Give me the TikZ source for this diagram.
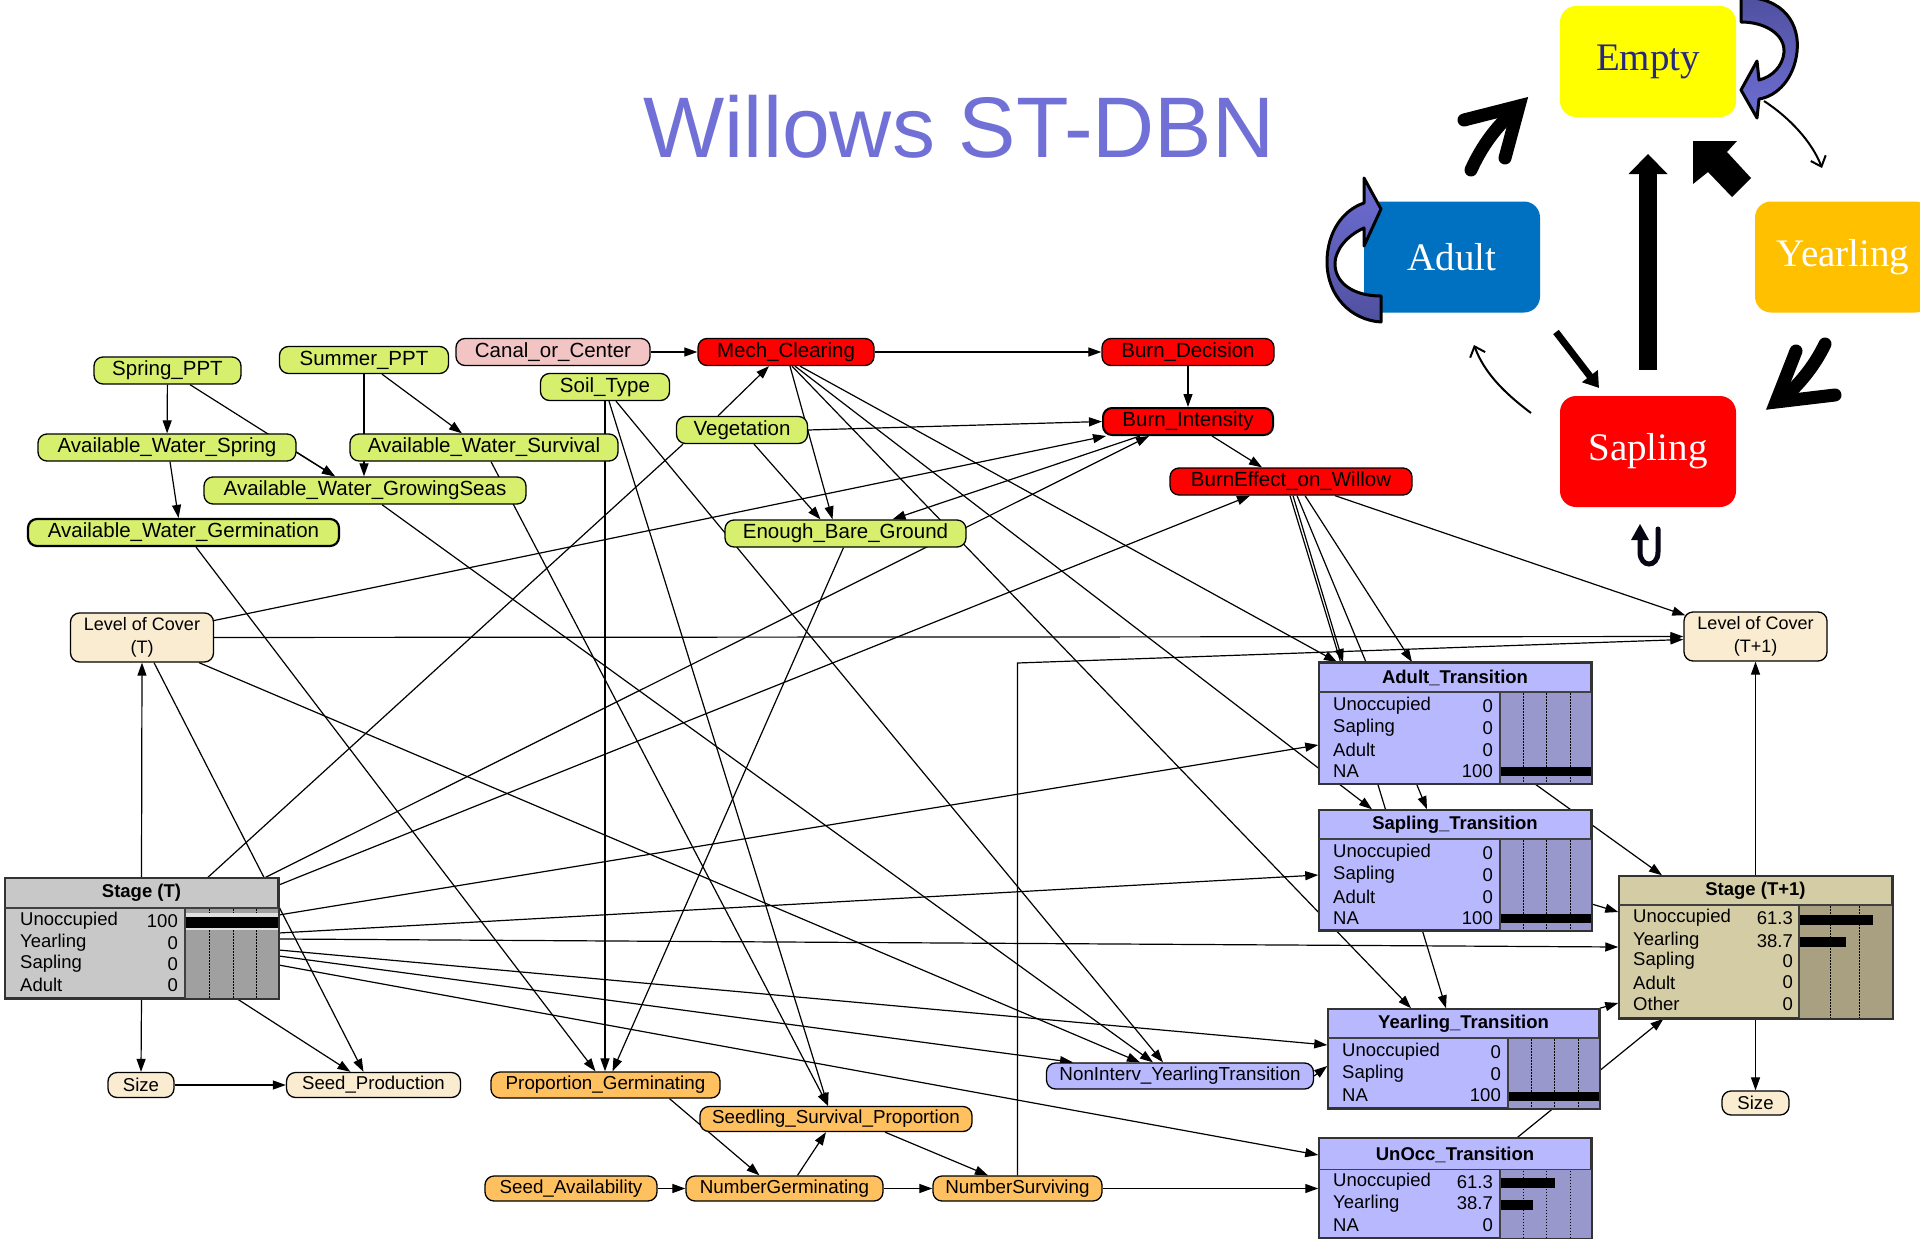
\documentclass[tikz,border=0pt]{standalone}
\usepackage{fontspec}
\newfontfamily\arialf{Liberation Sans}
\newfontfamily\timesf{Liberation Serif}
\usetikzlibrary{arrows.meta,backgrounds,calc}

\definecolor{grnc}{RGB}{214,240,110}
\definecolor{redc}{RGB}{255,0,0}
\definecolor{pinkc}{RGB}{242,196,196}
\definecolor{creamc}{RGB}{249,236,208}
\definecolor{orangec}{RGB}{255,192,96}
\definecolor{lavc}{RGB}{184,184,255}
\definecolor{lavbar}{RGB}{152,152,204}
\definecolor{grayc}{RGB}{200,200,200}
\definecolor{graybar}{RGB}{160,160,160}
\definecolor{tanc}{RGB}{212,204,164}
\definecolor{tanbar}{RGB}{168,160,128}
\definecolor{titlec}{RGB}{112,112,214}
\definecolor{emptyc}{RGB}{255,255,0}
\definecolor{adultc}{RGB}{0,112,192}
\definecolor{yearc}{RGB}{255,192,0}
\definecolor{saplc}{RGB}{255,0,0}
\definecolor{loopdark}{RGB}{80,80,160}
\definecolor{looplight}{RGB}{110,110,212}
\definecolor{navyc}{RGB}{40,40,130}

\newcommand\bnfont{\arialf\fontsize{20.5}{22}\selectfont}
\newcommand\lowfont{\arialf\fontsize{18.8}{20}\selectfont}
\newcommand\tbfont{\arialf\fontsize{18.5}{20}\selectfont}
\newcommand\tbbold{\arialf\bfseries\fontsize{18.5}{20}\selectfont}
\newcommand\stfont{\timesf\fontsize{39}{40}\selectfont}

\tikzset{
  bn/.style={draw=black, line width=1.3pt, rounded corners=9pt, minimum height=27pt, inner sep=0pt, font=\bnfont},
  grn/.style={bn, fill=grnc},
  rd/.style={bn, fill=redc},
  pnk/.style={bn, fill=pinkc},
  crm/.style={bn, fill=creamc},
  orn/.style={bn, fill=orangec, minimum height=25pt, font=\lowfont},
  lav/.style={bn, fill=lavc, font=\lowfont},
  tbl/.style={draw=black!80, line width=1.5pt, inner sep=0pt},
  tblline/.style={draw=black!80, line width=1.5pt},
  sep/.style={draw=black!75, line width=1.2pt},
  dotl/.style={draw=black, line width=1pt, dash pattern=on 1.5pt off 1.5pt},
  cell/.style={font=\tbfont, inner sep=0pt},
  ttl/.style={font=\tbbold, inner sep=0pt},
  arr/.style={line width=1.2pt, -{Triangle[length=13pt,width=9pt]}},
  lnk/.style={line width=1.2pt},
  state/.style={rounded corners=16pt, minimum width=176pt, minimum height=111pt, inner sep=0pt, font=\stfont, text=white},
  loopband/.style={draw=black, line width=3pt, line join=round},
  fatv/.style={line width=13pt, line cap=round, line join=miter, miter limit=20},
  thinc/.style={line width=2pt, -{Straight Barb[length=9pt,width=16pt]}}
}

\begin{document}
\begin{tikzpicture}[x=1pt,y=-1pt]
\useasboundingbox (0,0) rectangle (1920,1239);

% ---------- title ----------
\node[font=\arialf\fontsize{86}{86}\selectfont, text=titlec, anchor=base, inner sep=0pt] (title) at (959,157) {Willows ST-DBN};

% ---------- network nodes ----------
\node[grn, minimum width=147pt] (spring) at (167.5,370.5) {Spring\_PPT};
\node[grn, minimum width=169pt] (summer) at (364,360) {Summer\_PPT};
\node[pnk, minimum width=194pt] (canal) at (553,352) {Canal\_or\_Center};
\node[grn, minimum width=129pt] (soil) at (605,387) {Soil\_Type};
\node[rd, minimum width=176pt] (mech) at (786,352) {Mech\_Clearing};
\node[rd, minimum width=172pt] (burndec) at (1188,352) {Burn\_Decision};
\node[rd, minimum width=170pt, line width=2pt] (burnint) at (1188,421.5) {Burn\_Intensity};
\node[rd, minimum width=242pt] (bew) at (1291,481.5) {BurnEffect\_on\_Willow};
\node[grn, minimum width=131pt] (veg) at (742,430) {Vegetation};
\node[grn, minimum width=258pt] (awspring) at (167,447.5) {Available\_Water\_Spring};
\node[grn, minimum width=268pt] (awsurv) at (484,447.5) {Available\_Water\_Survival};
\node[grn, minimum width=322pt] (awgrow) at (365,490.5) {Available\_Water\_GrowingSeas};
\node[grn, minimum width=311pt, line width=2.2pt] (awgerm) at (183.5,532.5) {Available\_Water\_Germination};
\node[grn, minimum width=241pt] (ebg) at (845.5,533.5) {Enough\_Bare\_Ground};

\node[crm, minimum width=143pt, minimum height=49pt, align=center, font=\arialf\fontsize{18}{23}\selectfont] (locT) at (142,637.5) {Level of Cover\\(T)};
\node[crm, minimum width=143pt, minimum height=49pt, align=center, font=\arialf\fontsize{18}{23}\selectfont] (locT1) at (1755.5,636.5) {Level of Cover\\(T+1)};

\node[crm, minimum width=66pt, minimum height=25pt, font=\arialf\fontsize{18.6}{20}\selectfont] (sizeL) at (141,1085) {Size};
\node[crm, minimum width=174pt, minimum height=25pt, font=\arialf\fontsize{18.6}{20}\selectfont] (seedprod) at (373.5,1085) {Seed\_Production};
\node[crm, minimum width=67pt, minimum height=24pt, font=\arialf\fontsize{18.6}{20}\selectfont] (sizeR) at (1755.5,1103) {Size};

\node[orn, minimum width=229pt, minimum height=26pt] (propgerm) at (605.5,1085) {Proportion\_Germinating};
\node[orn, minimum width=272pt] (ssp) at (836,1119) {Seedling\_Survival\_Proportion};
\node[orn, minimum width=172pt] (seedavail) at (571,1188.5) {Seed\_Availability};
\node[orn, minimum width=197pt] (numgerm) at (784.5,1188.5) {NumberGerminating};
\node[orn, minimum width=169pt] (numsurv) at (1017.5,1188.5) {NumberSurviving};
\node[lav, minimum width=267pt, minimum height=26pt] (nonint) at (1180,1076) {NonInterv\_YearlingTransition};

% ---------- Stage (T) ----------
\node[tbl, fill=grayc, minimum width=273pt, minimum height=120pt] (stageT) at (141.5,938) {};
\begin{scope}[shift={(5,878)}]
  \fill[graybar] (180,30) rectangle (273,120);
  \foreach \dx in {24,48,71} \draw[dotl] (180+\dx,31) -- (180+\dx,120);
  \fill[black!12] (181,35) rectangle (273,52);
  \fill[black] (181,38.5) rectangle (273,49.5);
  \draw[sep] (0,30) -- (273,30);
  \draw[sep] (180,30) -- (180,120);
  \node[ttl] at (136.5,15) {Stage (T)};
  \node[cell, anchor=west] at (15,43) {Unoccupied};
  \node[cell, anchor=west] at (15,65) {Yearling};
  \node[cell, anchor=west] at (15,86) {Sapling};
  \node[cell, anchor=west] at (15,107) {Adult};
  \node[cell, anchor=east] at (173,43) {100};
  \node[cell, anchor=east] at (173,65) {0};
  \node[cell, anchor=east] at (173,86) {0};
  \node[cell, anchor=east] at (173,107) {0};
\end{scope}
\draw[tblline] (stageT.north west) rectangle (stageT.south east);

% ---------- Adult_Transition ----------
\node[tbl, fill=lavc, minimum width=272pt, minimum height=120.5pt] (adultT) at (1455,723) {};
\begin{scope}[shift={(1319,663)}]
  \fill[lavbar] (181,29) rectangle (272,120.5);
  \foreach \dx in {23,46,70} \draw[dotl] (181+\dx,30) -- (181+\dx,120);
  \fill[black] (181,104) rectangle (272,113);
  \draw[sep] (0,29) -- (272,29);
  \draw[sep] (181,29) -- (181,120.5);
  \node[ttl] at (136,15) {Adult\_Transition};
  \node[cell, anchor=west] at (14,43) {Unoccupied};
  \node[cell, anchor=west] at (14,65) {Sapling};
  \node[cell, anchor=west] at (14,87) {Adult};
  \node[cell, anchor=west] at (14,108) {NA};
  \node[cell, anchor=east] at (174,43) {0};
  \node[cell, anchor=east] at (174,65) {0};
  \node[cell, anchor=east] at (174,87) {0};
  \node[cell, anchor=east] at (174,108) {100};
\end{scope}
\draw[tblline] (adultT.north west) rectangle (adultT.south east);

% ---------- Sapling_Transition ----------
\node[tbl, fill=lavc, minimum width=272pt, minimum height=120pt] (saplingT) at (1455,870) {};
\begin{scope}[shift={(1319,810)}]
  \fill[lavbar] (181,29) rectangle (272,120);
  \foreach \dx in {23,46,70} \draw[dotl] (181+\dx,30) -- (181+\dx,120);
  \fill[black] (181,104) rectangle (272,113);
  \draw[sep] (0,29) -- (272,29);
  \draw[sep] (181,29) -- (181,120);
  \node[ttl] at (136,15) {Sapling\_Transition};
  \node[cell, anchor=west] at (14,43) {Unoccupied};
  \node[cell, anchor=west] at (14,65) {Sapling};
  \node[cell, anchor=west] at (14,87) {Adult};
  \node[cell, anchor=west] at (14,108) {NA};
  \node[cell, anchor=east] at (174,43) {0};
  \node[cell, anchor=east] at (174,65) {0};
  \node[cell, anchor=east] at (174,87) {0};
  \node[cell, anchor=east] at (174,108) {100};
\end{scope}
\draw[tblline] (saplingT.north west) rectangle (saplingT.south east);

% ---------- Yearling_Transition ----------
\node[tbl, fill=lavc, minimum width=271pt, minimum height=99pt] (yearT) at (1463.5,1058.5) {};
\begin{scope}[shift={(1328,1009)}]
  \fill[lavbar] (180,29) rectangle (271,99);
  \foreach \dx in {23,46,70} \draw[dotl] (180+\dx,30) -- (180+\dx,99);
  \fill[black] (180,83) rectangle (271,92);
  \draw[sep] (0,29) -- (271,29);
  \draw[sep] (180,29) -- (180,99);
  \node[ttl] at (135.5,15) {Yearling\_Transition};
  \node[cell, anchor=west] at (14,43) {Unoccupied};
  \node[cell, anchor=west] at (14,65) {Sapling};
  \node[cell, anchor=west] at (14,86) {NA};
  \node[cell, anchor=east] at (173,43) {0};
  \node[cell, anchor=east] at (173,65) {0};
  \node[cell, anchor=east] at (173,86) {100};
\end{scope}
\draw[tblline] (yearT.north west) rectangle (yearT.south east);

% ---------- UnOcc_Transition ----------
\node[tbl, fill=lavc, minimum width=272pt, minimum height=99pt] (unoccT) at (1455,1188) {};
\begin{scope}[shift={(1319,1138.5)}]
  \fill[lavbar] (181,31) rectangle (272,99);
  \foreach \dx in {23,46,70} \draw[dotl] (181+\dx,32) -- (181+\dx,99);
  \fill[black] (181,39.5) rectangle (236,49);
  \fill[black] (181,61.5) rectangle (214,71.5);
  \draw[sep] (0,31) -- (272,31);
  \draw[sep] (181,31) -- (181,99);
  \node[ttl] at (136,16) {UnOcc\_Transition};
  \node[cell, anchor=west] at (14,43.5) {Unoccupied};
  \node[cell, anchor=west] at (14,65) {Yearling};
  \node[cell, anchor=west] at (14,86.5) {NA};
  \node[cell, anchor=east] at (174,43.5) {61.3};
  \node[cell, anchor=east] at (174,65) {38.7};
  \node[cell, anchor=east] at (174,86.5) {0};
\end{scope}
\draw[tblline] (unoccT.north west) rectangle (unoccT.south east);

% ---------- Stage (T+1) ----------
\node[tbl, fill=tanc, minimum width=273pt, minimum height=142pt] (stageT1) at (1755.5,947) {};
\begin{scope}[shift={(1619,876)}]
  \fill[tanbar] (180,29) rectangle (273,142);
  \foreach \dx in {31,60} \draw[dotl] (180+\dx,30) -- (180+\dx,142);
  \fill[black] (180,39) rectangle (254,49);
  \fill[black] (180,60.5) rectangle (227,71);
  \draw[sep] (0,29) -- (273,29);
  \draw[sep] (180,29) -- (180,142);
  \node[ttl] at (136.5,15) {Stage (T+1)};
  \node[cell, anchor=west] at (14,42) {Unoccupied};
  \node[cell, anchor=west] at (14,65) {Yearling};
  \node[cell, anchor=west] at (14,85) {Sapling};
  \node[cell, anchor=west] at (14,106.5) {Adult};
  \node[cell, anchor=west] at (14,128) {Other};
  \node[cell, anchor=east] at (174,42) {61.3};
  \node[cell, anchor=east] at (174,65) {38.7};
  \node[cell, anchor=east] at (174,85) {0};
  \node[cell, anchor=east] at (174,106.5) {0};
  \node[cell, anchor=east] at (174,128) {0};
\end{scope}
\draw[tblline] (stageT1.north west) rectangle (stageT1.south east);

\coordinate (nsbend) at (1017.5,663);

% ---------- links (behind the nodes) ----------
\begin{scope}[on background layer]
\fill[white] (0,0) rectangle (1920,1239);
% management and fire
\draw[arr] (canal) -- (mech);
\draw[arr] (mech) -- (burndec);
\draw[arr] (burndec) -- (burnint);
\draw[arr] ([xshift=24pt]burnint.south) -- ([xshift=-29pt]bew.north);
\draw[arr] ([xshift=-24pt]veg.north) -- ([xshift=-17pt]mech.south);
\draw[arr] (veg.east) -- (burnint.west);
\draw[arr] ([xshift=12pt]veg.south) -- ([xshift=-25pt]ebg.north);
\draw[arr] ([xshift=4pt]mech.south) -- ([xshift=-13pt]ebg.north);
\draw[arr] ([xshift=-48pt]burnint.south) -- ([xshift=47pt]ebg.north);
\draw[arr] ([yshift=17pt]locT.east) -- ([xshift=4pt]burnint.south west);
\draw[arr] ([xshift=-13pt]stageT.north east) -- ([xshift=-39pt]burnint.south);
\draw[lnk] ([xshift=66.5pt]stageT.north) -- ([xshift=-59pt]veg.south);
\draw[arr] ([yshift=53pt]stageT.east) -- ([xshift=-41pt]bew.south);
% stage (T) to the transitions
\draw[arr] ([yshift=23pt]stageT.east) -- ([yshift=-22pt]adultT.west);
\draw[arr] ([yshift=5pt]stageT.east) -- ([yshift=-5pt]saplingT.west);
\draw[arr] ([yshift=-1pt]stageT.east) -- (stageT1.west);
\draw[arr] ([yshift=-12pt]stageT.east) -- ([yshift=13.5pt]yearT.west);
\draw[arr] ([yshift=-18pt]stageT.east) -- ([xshift=-107pt]nonint.north);
\draw[arr] ([yshift=-27pt]stageT.east) -- ([yshift=33pt]unoccT.west);
\draw[arr] (stageT.south) -- (sizeL.north);
\draw[arr] (stageT.north) -- (locT.south);
\draw[arr] ([xshift=95.5pt]stageT.south) -- ([xshift=-23pt]seedprod.north);
\draw[arr] ([xshift=12pt]locT.south) -- ([xshift=-10pt]seedprod.north);
\draw[arr] (sizeL) -- (seedprod);
\draw[arr] (locT) -- (locT1);
\draw[arr] ([xshift=57pt]locT.south) -- ([xshift=-40pt]nonint.north);
% water
\draw[arr] (spring) -- (awspring);
\draw[arr] ([xshift=22.5pt]spring.south) -- ([xshift=-30pt]awgrow.north);
\draw[arr] ([xshift=18pt]summer.south) -- ([xshift=-22pt]awsurv.north);
\draw[arr] (summer.south) -- (summer.south |- awgrow.north);
\draw[arr] ([yshift=-5pt]awspring.east) -- ([xshift=-30pt]awgrow.north);
\draw[arr] ([xshift=3pt]awspring.south) -- ([xshift=-5pt]awgerm.north);
\draw[arr] ([xshift=12.5pt]awgerm.south) -- ([xshift=-10pt]propgerm.north);
\draw[arr] (soil.south) -- (soil.south |- propgerm.north);
\draw[arr] ([xshift=-2pt]ebg.south) -- ([xshift=7pt]propgerm.north);
\draw[arr] ([xshift=4pt]soil.south) -- ([xshift=-8pt]ssp.north);
\draw[arr] ([xshift=7pt]awsurv.south) -- ([xshift=-8pt]ssp.north);
\draw[arr] ([xshift=11pt]soil.south) -- ([xshift=-17pt]nonint.north);
\draw[arr] ([xshift=17pt]awgrow.south) -- ([xshift=-27pt]nonint.north);
% clearing and burn effect to the transitions
\draw[arr] ([xshift=14pt]mech.south) -- ([xshift=-118pt]adultT.north);
\draw[arr] ([xshift=9pt]mech.south) -- ([xshift=-83pt]saplingT.north);
\draw[arr] ([xshift=6pt]mech.south) -- ([xshift=-52.5pt]yearT.north);
\draw[arr] ([xshift=2pt]bew.south) -- ([xshift=-112pt]adultT.north);
\draw[arr] ([xshift=14pt]bew.south) -- ([xshift=-43pt]adultT.north);
\draw[arr] ([xshift=6pt]bew.south) -- ([xshift=-28pt]saplingT.north);
\draw[arr] ([xshift=-1pt]bew.south) -- ([xshift=-17.5pt]yearT.north);
\draw[arr] ([xshift=44pt]bew.south) -- ([xshift=2pt,yshift=-4pt]locT1.north west);
\draw[arr] (numsurv.north) -- (nsbend) -- ([yshift=-3pt]locT1.west);
% transitions to stage (T+1)
\draw[arr] ([xshift=80pt]adultT.south) -- ([xshift=-93.5pt]stageT1.north);
\draw[arr] ([yshift=-34pt]saplingT.east) -- ([yshift=35pt]stageT1.west);
\draw[arr] (yearT.north east) -- ([yshift=-56pt]stageT1.west);
\draw[arr] ([xshift=62pt]unoccT.north) -- ([xshift=-92pt]stageT1.south);
\draw[arr] (stageT1) -- (locT1);
\draw[arr] (stageT1) -- (sizeR);
\draw[arr] (nonint.east) -- ([yshift=-7.5pt]yearT.west);
% seeds
\draw[arr] (numsurv.east) -- (numsurv.east -| unoccT.west);
\draw[arr] (seedavail) -- (numgerm);
\draw[arr] (numgerm) -- (numsurv);
\draw[arr] ([xshift=64pt]propgerm.south) -- ([xshift=-25pt]numgerm.north);
\draw[arr] ([xshift=13pt]numgerm.north) -- ([xshift=-10pt]ssp.south);
\draw[arr] ([xshift=49pt]ssp.south) -- ([xshift=-29.5pt]numsurv.north);
\end{scope}

% ---------- state cycle ----------
\node[state, fill=emptyc, text=navyc] (empty) at (1648,61.5) {Empty};
\node[state, fill=adultc] (adult) at (1452,257) {Adult};
\node[state, fill=yearc] (yearling) at (1843,257) {Yearling};
\node[state, fill=saplc] (sapling) at (1648,451.5) {Sapling};

% adult to empty
\draw[fatv] (1471,170) .. controls (1480,150) and (1493,130) .. (1512,113);
\draw[fatv] (1464,120) -- (1519,106) -- (1505,158);
% yearling to sapling
\draw[fatv] (1825,344) .. controls (1815,365) and (1801,382) .. (1786,396);
\draw[fatv] (1796,351) -- (1776,402) -- (1835,395);
% yearling to empty
\fill (1693,141) -- (1737,141) -- (1727,152) -- (1751,178) -- (1732,197) -- (1708,172) -- (1693,184) -- cycle;
% sapling to empty
\fill (1639,370) rectangle (1657,172);
\fill (1648,154) -- (1628.5,174) -- (1667.5,174) -- cycle;
% adult to sapling
\draw[line width=7pt, -{Triangle[length=15pt,width=19pt]}] (1556,332) -- (1599,388);
% sapling to adult, empty to yearling
\draw[thinc] (1531,413) .. controls (1503,392) and (1484,372) .. (1474,345);
\draw[thinc] (1764,101) .. controls (1790,118) and (1812,142) .. (1822,168);

% self loops
\draw[loopband, top color=loopdark, bottom color=looplight]
  (1741,-3) .. controls (1785,-3) and (1800,25) .. (1797,52)
  .. controls (1794,78) and (1778,96) .. (1759,99) -- (1757,118) -- (1741,90) -- (1757,61)
  -- (1759,80) .. controls (1772,77) and (1783,66) .. (1784,52)
  .. controls (1785,35) and (1766,22) .. (1741,22) -- cycle;
\draw[loopband, top color=looplight, bottom color=loopdark]
  (1381,322) .. controls (1350,320) and (1327,295) .. (1327,262)
  .. controls (1327,232) and (1343,210) .. (1364,203) -- (1364,178) -- (1381,209) -- (1364,246)
  -- (1364,228) .. controls (1346,236) and (1336,250) .. (1335,262)
  .. controls (1334,282) and (1352,296) .. (1381,296) -- cycle;
\draw[line width=5pt, draw=black!85!navyc, line cap=round] (1640,537) -- (1640,552) .. controls (1640,568) and (1658,568) .. (1658,552) -- (1658,529);
\fill[black!85!navyc] (1640,524) -- (1631,540) -- (1649,540) -- cycle;
\end{tikzpicture}
\end{document}
